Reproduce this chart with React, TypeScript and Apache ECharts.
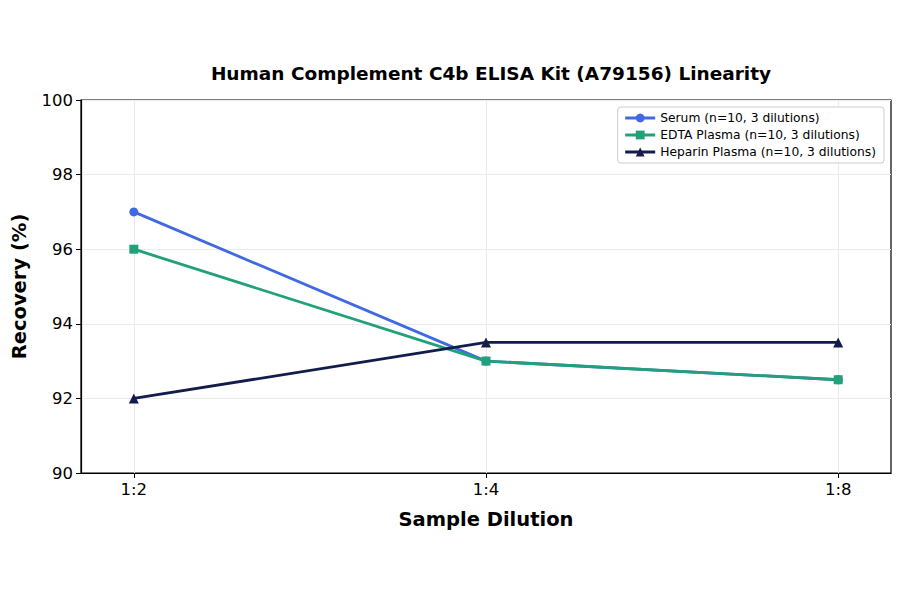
import React, { useEffect, useRef } from 'react';
import * as echarts from 'echarts';

const titleText = 'Human Complement C4b ELISA Kit (A79156) Linearity';
const dilutions = ['1:2', '1:4', '1:8'];
const serumValues = [97, 93, 92.5];
const edtaValues = [96, 93, 92.5];
const heparinValues = [92, 93.5, 93.5];
const yTicks = [90, 92, 94, 96, 98, 100];

const FONT = '"DejaVu Sans", sans-serif';

const toPoints = (vals: number[]) => vals.map((v, i) => [i, v]);

const App = () => {
  const chartRef = useRef<HTMLDivElement>(null);

  useEffect(() => {
    if (!chartRef.current) return;
    const chart = echarts.init(chartRef.current, null, { renderer: 'svg' });

    const idx = dilutions.map((_, i) => i);

    const makeSeries = (name: string, vals: number[], color: string, symbol: string, size: number) => ({
      name,
      type: 'line',
      data: toPoints(vals),
      symbol,
      symbolSize: size,
      showAllSymbol: true,
      lineStyle: { color, width: 2.8 },
      itemStyle: { color },
      emphasis: { disabled: true },
    });

    chart.setOption({
      animation: false,
      textStyle: { fontFamily: FONT },
      title: {
        text: titleText,
        left: 486,
        textAlign: 'center',
        top: 59,
        textStyle: { fontFamily: FONT, fontSize: 18.5, fontWeight: 'bold', color: '#000' },
      },
      legend: {
        orient: 'vertical',
        right: 16,
        top: 107,
        padding: [5, 8, 5, 6],
        itemGap: 5,
        itemWidth: 30,
        itemHeight: 11,
        borderColor: '#cccccc',
        borderWidth: 1,
        borderRadius: 3,
        backgroundColor: '#fff',
        lineStyle: { width: 3 },
        textStyle: { fontFamily: FONT, fontSize: 12.3, color: '#000' },
        data: ['Serum (n=10, 3 dilutions)', 'EDTA Plasma (n=10, 3 dilutions)', 'Heparin Plasma (n=10, 3 dilutions)'],
      },
      grid: {
        left: 81,
        right: 9,
        top: 100,
        bottom: 121,
        containLabel: false,
        show: true,
        borderColor: '#000',
        borderWidth: 1.2,
        backgroundColor: 'transparent',
      },
      xAxis: {
        type: 'value',
        min: -0.15,
        max: 2.15,
        name: 'Sample Dilution',
        nameLocation: 'middle',
        nameGap: 36,
        nameTextStyle: { fontFamily: FONT, fontSize: 19.5, fontWeight: 'bold', color: '#000' },
        axisLine: { show: true, onZero: false, lineStyle: { color: '#000', width: 1.2 } },
        axisTick: { show: true, customValues: idx, length: 5, lineStyle: { color: '#000' } },
        axisLabel: {
          customValues: idx,
          formatter: (v: number) => dilutions[Math.round(v)] ?? '',
          fontFamily: FONT,
          fontSize: 16.5,
          color: '#000',
          margin: 8,
        },
        splitLine: { show: true, lineStyle: { color: '#ebebeb', width: 1 } },
      },
      yAxis: {
        type: 'value',
        min: 90,
        max: 100,
        interval: 2,
        name: 'Recovery (%)',
        nameLocation: 'middle',
        nameGap: 52,
        nameTextStyle: { fontFamily: FONT, fontSize: 19.5, fontWeight: 'bold', color: '#000' },
        axisLine: { show: true, onZero: false, lineStyle: { color: '#000', width: 1.2 } },
        axisTick: { show: true, length: 5, lineStyle: { color: '#000' } },
        axisLabel: {
          fontFamily: FONT,
          fontSize: 16.5,
          color: '#000',
          margin: 8,
          formatter: (v: number) => (yTicks.includes(v) ? String(v) : ''),
        },
        splitLine: { show: true, lineStyle: { color: '#ebebeb', width: 1 } },
      },
      series: [
        makeSeries('Serum (n=10, 3 dilutions)', serumValues, '#4169e1', 'circle', 9),
        makeSeries('EDTA Plasma (n=10, 3 dilutions)', edtaValues, '#21a07a', 'rect', 9),
        makeSeries('Heparin Plasma (n=10, 3 dilutions)', heparinValues, '#131c4a', 'triangle', 10),
      ],
    });

    return () => {
      chart.dispose();
    };
  }, []);

  return (
    <div style={{ position: 'absolute', left: 0, top: 0, width: 900, height: 594, background: '#fff' }}>
      <div ref={chartRef} style={{ width: 900, height: 594 }} />
    </div>
  );
};

export default App;
